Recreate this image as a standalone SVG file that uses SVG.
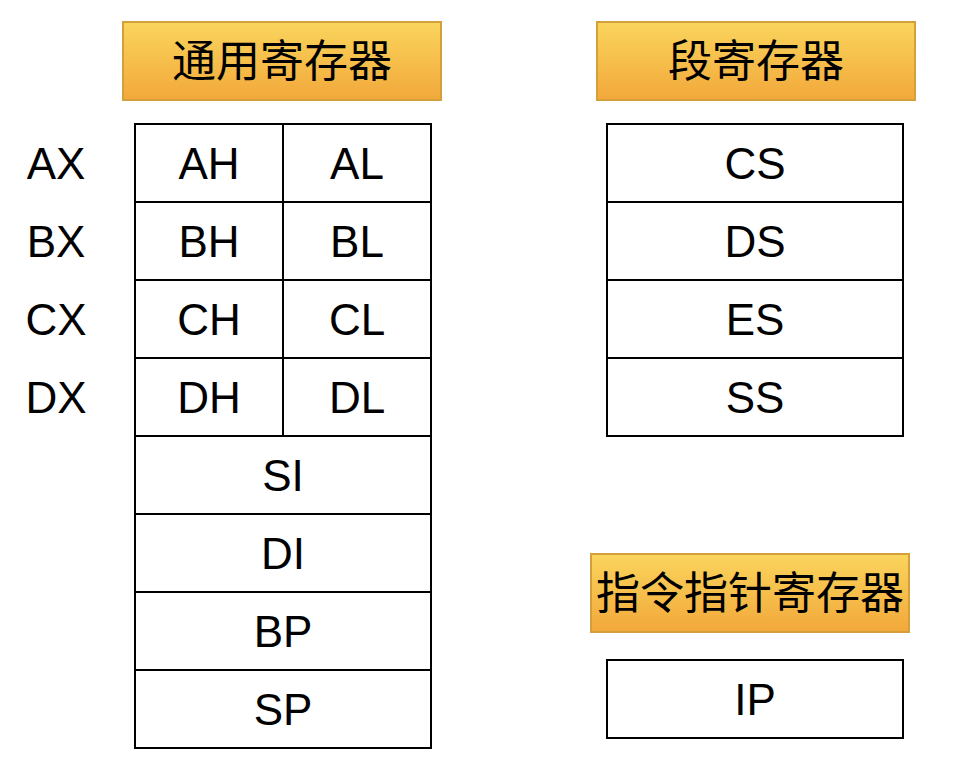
<svg xmlns="http://www.w3.org/2000/svg" width="958" height="772" viewBox="0 0 958 772">
<defs>
<linearGradient id="g" x1="0" y1="0" x2="0" y2="1">
<stop offset="0" stop-color="#FAD55D"/>
<stop offset="1" stop-color="#F2A83A"/>
</linearGradient>
<style>
.hdr{fill:url(#g);stroke:#D4A03B;stroke-width:2}
.cell{fill:#fff;stroke:#000;stroke-width:2}
.t{font-family:"Liberation Sans",Arial,sans-serif;font-size:44px;fill:#000;text-anchor:middle}
.c{font-family:"Noto Sans CJK SC","Noto Sans",sans-serif;font-size:44px;fill:#000;text-anchor:middle}
</style>
</defs>
<rect width="958" height="772" fill="#fff"/>
<g id="hdr-general">
<rect class="hdr" x="123" y="22" width="318" height="78"/>
<text class="c" x="282" y="77">通用寄存器</text>
</g>
<g id="hdr-segment">
<rect class="hdr" x="597" y="22" width="318" height="78"/>
<text class="c" x="756" y="77">段寄存器</text>
</g>
<g id="hdr-ip">
<rect class="hdr" x="591" y="554" width="318" height="78"/>
<text class="c" x="750" y="609">指令指针寄存器</text>
</g>
<g id="labels">
<text class="t" x="56" y="179">AX</text>
<text class="t" x="56" y="257">BX</text>
<text class="t" x="56" y="335">CX</text>
<text class="t" x="56" y="413">DX</text>
</g>
<g id="general">
<rect class="cell" x="135" y="124" width="148" height="78"/>
<rect class="cell" x="283" y="124" width="148" height="78"/>
<rect class="cell" x="135" y="202" width="148" height="78"/>
<rect class="cell" x="283" y="202" width="148" height="78"/>
<rect class="cell" x="135" y="280" width="148" height="78"/>
<rect class="cell" x="283" y="280" width="148" height="78"/>
<rect class="cell" x="135" y="358" width="148" height="78"/>
<rect class="cell" x="283" y="358" width="148" height="78"/>
<rect class="cell" x="135" y="436" width="296" height="78"/>
<rect class="cell" x="135" y="514" width="296" height="78"/>
<rect class="cell" x="135" y="592" width="296" height="78"/>
<rect class="cell" x="135" y="670" width="296" height="78"/>
<text class="t" x="209" y="179">AH</text>
<text class="t" x="357" y="179">AL</text>
<text class="t" x="209" y="257">BH</text>
<text class="t" x="357" y="257">BL</text>
<text class="t" x="209" y="335">CH</text>
<text class="t" x="357" y="335">CL</text>
<text class="t" x="209" y="413">DH</text>
<text class="t" x="357" y="413">DL</text>
<text class="t" x="283" y="491">SI</text>
<text class="t" x="283" y="569">DI</text>
<text class="t" x="283" y="647">BP</text>
<text class="t" x="283" y="725">SP</text>
</g>
<g id="segment">
<rect class="cell" x="607" y="124" width="296" height="78"/>
<rect class="cell" x="607" y="202" width="296" height="78"/>
<rect class="cell" x="607" y="280" width="296" height="78"/>
<rect class="cell" x="607" y="358" width="296" height="78"/>
<text class="t" x="755" y="179">CS</text>
<text class="t" x="755" y="257">DS</text>
<text class="t" x="755" y="335">ES</text>
<text class="t" x="755" y="413">SS</text>
</g>
<g id="ip">
<rect class="cell" x="607" y="660" width="296" height="78"/>
<text class="t" x="755" y="715">IP</text>
</g>
</svg>
